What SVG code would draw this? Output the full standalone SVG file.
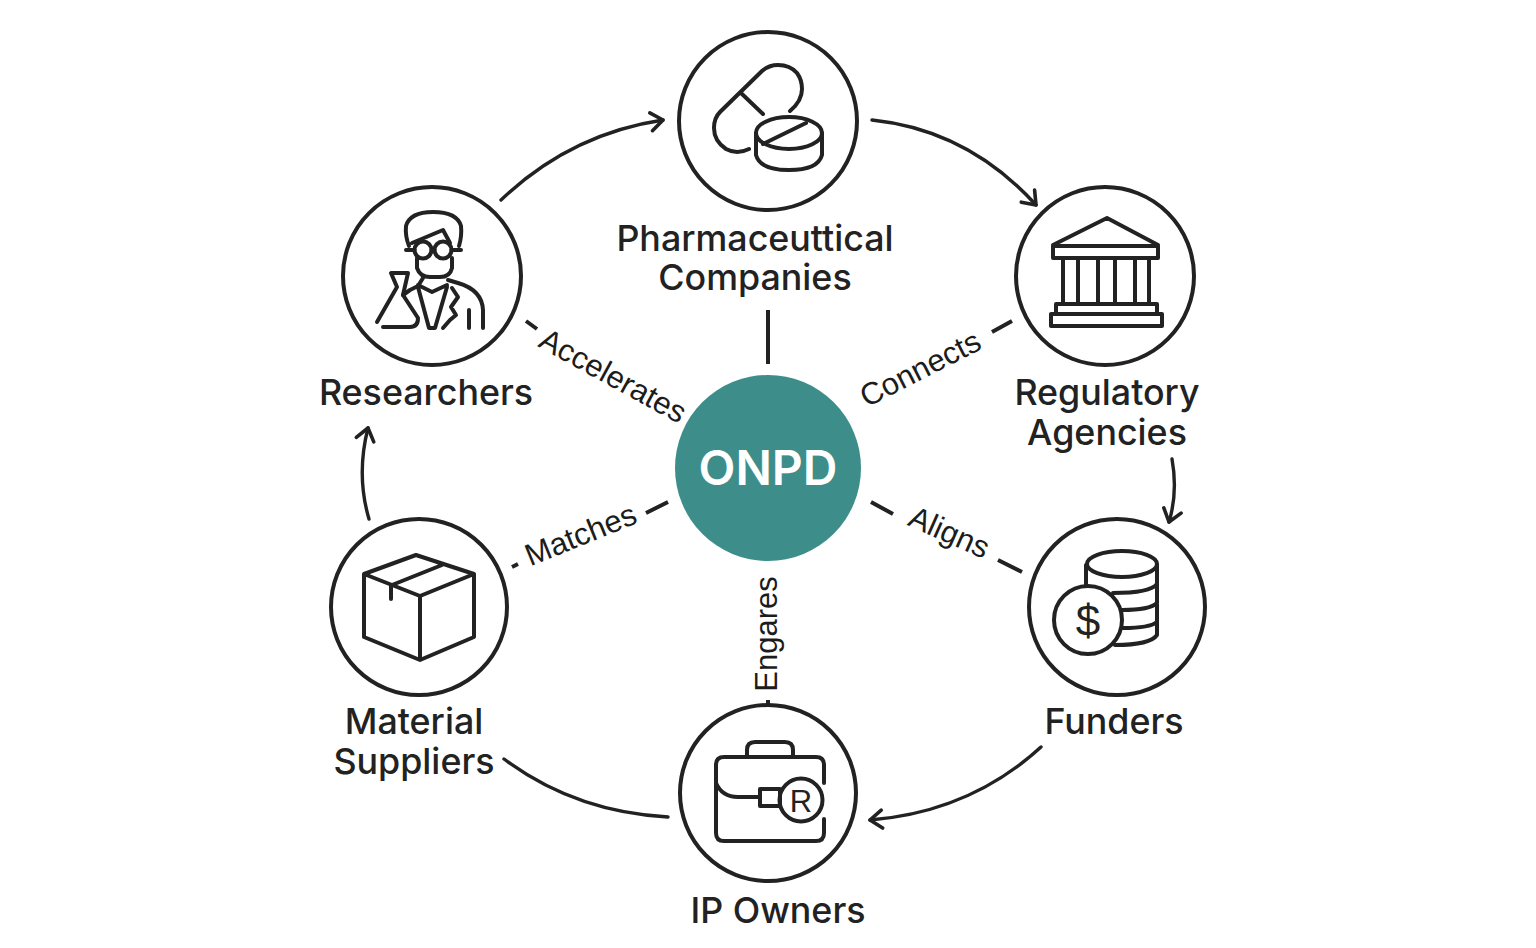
<svg xmlns="http://www.w3.org/2000/svg" width="1536" height="948" viewBox="0 0 1536 948">
<style>
.ring{fill:#fff;stroke:#222;stroke-width:4}
.ic{fill:none;stroke:#222;stroke-width:4;stroke-linecap:round;stroke-linejoin:round}
.lb{font-family:Inter,"Liberation Sans",sans-serif;font-size:35.8px;font-weight:500;fill:#222;text-anchor:middle}
.ed{font-family:"Liberation Sans",Arial,sans-serif;font-size:31px;fill:#1c1c1c;text-anchor:middle}
.gl{font-family:"Liberation Sans",Arial,sans-serif;fill:#222;text-anchor:middle}
.cn{fill:none;stroke:#222;stroke-width:3.4;stroke-linecap:round}
.tk{fill:none;stroke:#222;stroke-width:4}
</style>
<defs><marker id="ah" markerUnits="userSpaceOnUse" markerWidth="26" markerHeight="26" refX="20" refY="13" orient="auto"><path d="M8 4L20 13L8 22" fill="none" stroke="#222" stroke-width="3.6" stroke-linecap="round" stroke-linejoin="round"/></marker></defs>
<rect width="1536" height="948" fill="#fff"/>
<g id="connectors">
<path class="cn" marker-end="url(#ah)" d="M501 200Q570 134 663 120"/>
<path class="cn" marker-end="url(#ah)" d="M872 120Q968 130 1036 205"/>
<path class="cn" marker-end="url(#ah)" d="M1172 459Q1178 492 1169 522"/>
<path class="cn" marker-end="url(#ah)" d="M1041 747Q970 812 870 820"/>
<path class="cn" d="M668 817Q575 812 504 759"/>
<path class="cn" marker-end="url(#ah)" d="M369 519Q356 475 368 428"/>
<path class="tk" d="M768 310V364M526 321L537 329M992 332L1012 321M871 502L893 514M998 560L1022 572M512 567L518 564M646 513L668 502M768 700V705"/>
<text class="ed" transform="translate(608 385) rotate(28.7)">Accelerates</text>
<text class="ed" transform="translate(925 378) rotate(-27)">Connects</text>
<text class="ed" transform="translate(945 542) rotate(24)">Aligns</text>
<text class="ed" transform="translate(584.500 544.500) rotate(-22)">Matches</text>
<text class="ed" transform="translate(777 634) rotate(-90)">Engares</text>
</g>
<g id="pharma">
<circle class="ring" cx="768" cy="121" r="89"/>
<path class="ic" d="M749 149Q737 155 726 149Q714 141 714 128Q714 118 720 112L762 71Q769 65 778 65Q790 65 797 73Q802 80 802 89Q802 101 790 111M742 94L763 114"/>
<ellipse class="ic" cx="789" cy="133" rx="33" ry="16"/>
<path class="ic" d="M756 133V155Q760 170 789 170Q818 170 822 155V133M763 144L806 123"/>
<text class="lb" x="755" y="251">Pharmaceuttical</text>
<text class="lb" x="755" y="290">Companies</text>
</g>
<g id="researchers">
<circle class="ring" cx="432" cy="276" r="89"/>
<path class="ic" d="M409 246Q405 236 406 226Q410 212 433 212Q457 212 461 226Q462 236 459 246M412 243L443 230L450 243"/>
<circle class="ic" cx="423" cy="250" r="8.500"/><circle class="ic" cx="443" cy="250" r="8.500"/>
<path class="ic" d="M431.500 250H434.500M414.500 250H406M451.500 250H461M417 258V268Q420 277 430 277H440Q450 277 452 268V258"/>
<path class="ic" d="M423 278L418 286L410 290L403 295M448 280L458 283Q482 290 483 310V328M418 285L432 292L447 285M418 287L429 328H435L447 287M452 288L458 297L451 307L456 315L450 320L443 328M469 310V328"/>
<path class="ic" d="M377 322L397 287L391 273H408L403 295L418 318Q418 327 410 327H383"/>
<text class="lb" x="426" y="405">Researchers</text>
</g>
<g id="regulatory">
<circle class="ring" cx="1105" cy="276" r="89"/>
<path class="ic" d="M1053 245L1107 218L1158 245M1053 246H1158V258H1053ZM1063 258V303M1078 258V303M1098 258V303M1115 258V303M1135 258V303M1149 258V303M1056 304H1157V314H1056ZM1051 314H1162V326H1051Z"/>
<text class="lb" x="1107" y="405">Regulatory</text>
<text class="lb" x="1107" y="445">Agencies</text>
</g>
<g id="funders">
<circle class="ring" cx="1117" cy="607" r="88"/>
<ellipse class="ic" cx="1122" cy="564" rx="35" ry="13"/>
<path class="ic" d="M1086 565V585M1157 565V635Q1150 645 1115 645M1157 584Q1150 593 1113 593M1157 603Q1150 610 1122 610M1157 622Q1150 628 1123 628"/>
<circle class="ic" cx="1088" cy="620" r="34"/>
<text class="gl" x="1088" y="636" font-size="44">$</text>
<text class="lb" x="1114" y="734">Funders</text>
</g>
<g id="ip">
<circle class="ring" cx="768" cy="793" r="88"/>
<path class="ic" d="M824 783V765Q824 757 816 757H724Q716 757 716 765V833Q716 841 724 841H816Q824 841 824 833V819M747 757V750Q747 742 755 742H785Q793 742 793 750V757M716 783Q722 797 738 797H760M760 789H780V806H760Z"/>
<circle class="ic" cx="801" cy="800" r="21.500"/>
<text class="gl" x="801" y="812" font-size="31">R</text>
<text class="lb" x="778" y="923">IP Owners</text>
</g>
<g id="material">
<circle class="ring" cx="419" cy="607" r="88"/>
<path class="ic" d="M416 555L474 574L420 596L364 574ZM364 574V637L420 660L474 637V574M420 596V660M392 585L442 565M391 585V599"/>
<text class="lb" x="414" y="734">Material</text>
<text class="lb" x="414" y="774">Suppliers</text>
</g>
<g id="onpd">
<circle cx="768" cy="468" r="93" fill="#3d8e8a"/>
<text x="768" y="485" font-family="Inter,'Liberation Sans',sans-serif" font-size="48" font-weight="600" fill="#fff" text-anchor="middle">ONPD</text>
</g>
</svg>
